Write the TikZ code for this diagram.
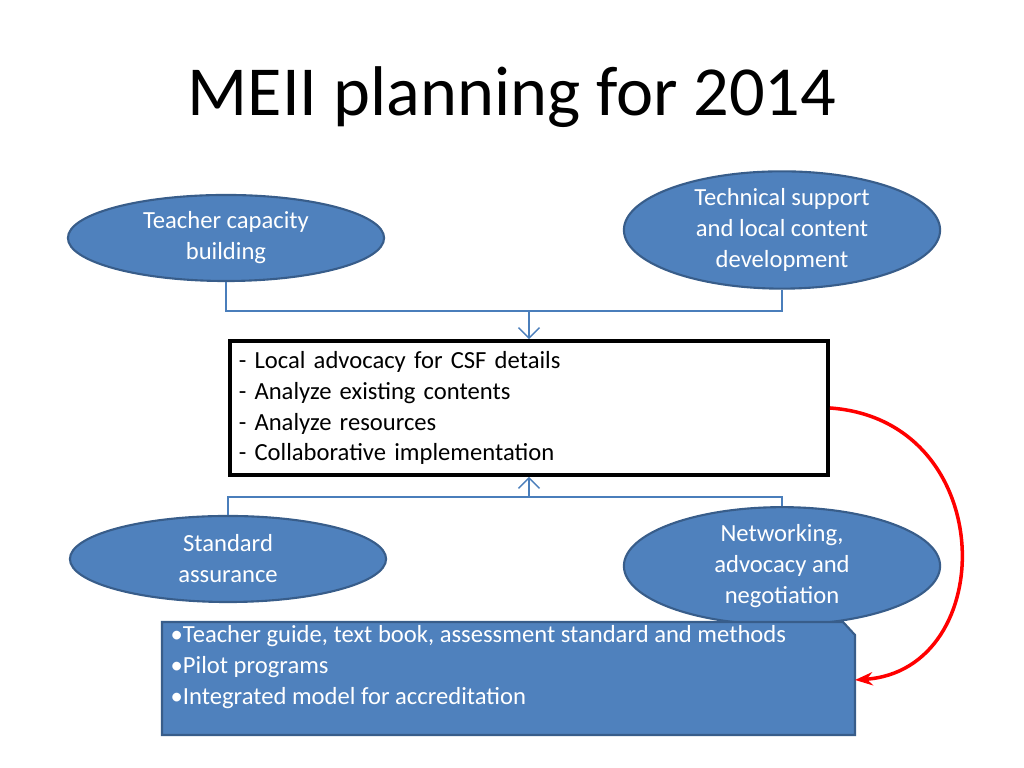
\documentclass[tikz,border=0pt]{standalone}
\usepackage{fontspec}
\setmainfont{Carlito}
\usetikzlibrary{shapes.geometric,arrows.meta}
\definecolor{fillb}{HTML}{4F81BD}
\definecolor{edgeb}{HTML}{385D8A}
\definecolor{linkb}{HTML}{4A7EBB}
\tikzset{
 oval/.style={ellipse,fill=fillb,draw=edgeb,line width=0.6pt,text=white,align=center,font=\fontsize{7}{8.8}\selectfont,inner sep=0pt},
 link/.style={draw=linkb,line width=0.4pt},
}
\begin{document}
\begin{tikzpicture}[x=0.01cm,y=-0.01cm]
\useasboundingbox (0,0) rectangle (1024,768);
\node (title) at (512,97) {\fontsize{20}{24}\selectfont MEII planning for 2014};
\node[oval,minimum width=316\pgflinewidth*0+3.16cm,minimum height=0.86cm] (tl) at (226,238) {Teacher capacity\\building};
\node[oval,minimum width=3.16cm,minimum height=1.04cm] (tr) at (782,230) {Technical support\\and local content\\development};
\node[oval,minimum width=3.16cm,minimum height=0.86cm] (bl) at (228,559) {Standard\\assurance};
\node[oval,minimum width=3.16cm,minimum height=1.0cm] (br) at (782,566) {Networking,\\advocacy and\\negotiation};
\node[draw=black,line width=1pt,fill=white,minimum width=5.98cm,minimum height=1.34cm,text width=5.8cm,align=left,font=\fontsize{7}{8.8}\selectfont,inner sep=0pt] (mid) at (529,408) {- Local advocacy for CSF details\\- Analyze existing contents\\- Analyze resources\\- Collaborative implementation};
\coordinate (tj) at (529,311);
\coordinate (bj) at (529,497);
\draw[link] (tl.south) |- (tj) -| (tr.south);
\draw[link,-{Straight Barb[length=3pt]}] (tj) -- (mid.north);
\draw[link] (bl.north) |- (bj) -| (br.north);
\draw[link,-{Straight Barb[length=3pt]}] (bj) -- (mid.south);
\draw[fill=fillb,draw=edgeb,line width=0.6pt] (162,622) -- (843,622) -- (855,635) -- (855,735) -- (162,735) -- cycle;
\node[anchor=north west,text=white,align=left,font=\fontsize{7}{8.8}\selectfont,inner sep=0pt] (low) at (170,625) {•Teacher guide, text book, assessment standard and methods\\•Pilot programs\\•Integrated model for accreditation};
\coordinate (lowr) at (855,680);
\draw[red,line width=1pt,-{Stealth[length=5pt]}] (mid.east) .. controls (1000,420) and (1000,670) .. (lowr);
\end{tikzpicture}
\end{document}
